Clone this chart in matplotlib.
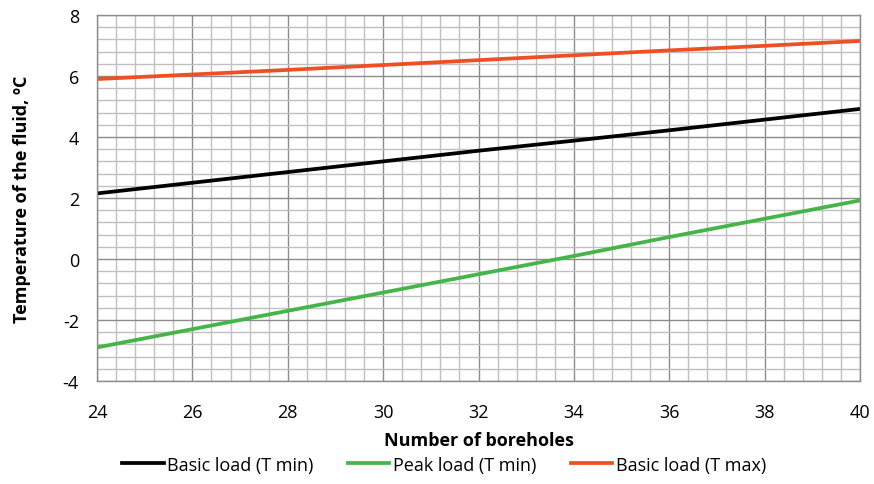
import numpy as np
import matplotlib
matplotlib.use('Agg')
import matplotlib.pyplot as plt
from matplotlib.ticker import MultipleLocator

plt.rcParams['font.family'] = ['Open Sans', 'DejaVu Sans']
plt.rcParams['axes.unicode_minus'] = False

# data
boreholes = [24, 26, 28, 30, 32, 34, 36, 38, 40]
basicMin = [2.15, 2.5, 2.85, 3.2, 3.55, 3.88, 4.22, 4.57, 4.92]
peakMin = [-2.9, -2.3, -1.7, -1.1, -0.5, 0.1, 0.72, 1.32, 1.92]
basicMax = [5.9, 6.05, 6.2, 6.36, 6.52, 6.68, 6.84, 6.99, 7.15]

fig = plt.figure(figsize=(8.74, 4.85), dpi=100)
ax = fig.add_axes([0.111, 0.2124, 0.873, 0.7546])

ax.plot(boreholes, basicMin, color='#000000', lw=2.7, label='Basic load (T min)')
ax.plot(boreholes, peakMin, color='#45b549', lw=2.7, label='Peak load (T min)')
ax.plot(boreholes, basicMax, color='#f04e23', lw=2.7, label='Basic load (T max)')

ax.set_xlim(24, 40)
ax.set_ylim(-4, 8)
ax.xaxis.set_major_locator(MultipleLocator(2))
ax.yaxis.set_major_locator(MultipleLocator(2))
ax.xaxis.set_minor_locator(MultipleLocator(0.4))
ax.yaxis.set_minor_locator(MultipleLocator(0.4))
ax.grid(which='major', color='#8c8c8c', lw=1.0, zorder=0)
ax.grid(which='minor', color='#c0c0c0', lw=1.0, zorder=0)
ax.set_axisbelow(True)
ax.tick_params(which='both', length=0, labelsize=13)
ax.tick_params(axis='x', pad=16)
ax.tick_params(axis='y', pad=13)
for s in ax.spines.values():
    s.set_color('#8c8c8c')
    s.set_linewidth(1.0)

ax.set_xlabel('Number of boreholes', fontsize=13, fontweight='bold', labelpad=7)
ax.set_ylabel('Temperature of the fluid, \u00baC', fontsize=13, fontweight='bold', labelpad=23)

fig.legend(loc='lower center', bbox_to_anchor=(0.508, -0.012), ncol=3, frameon=False,
           fontsize=13, handlelength=2.3, handletextpad=0.2, columnspacing=1.9)

fig.savefig('out.png', dpi=100)
